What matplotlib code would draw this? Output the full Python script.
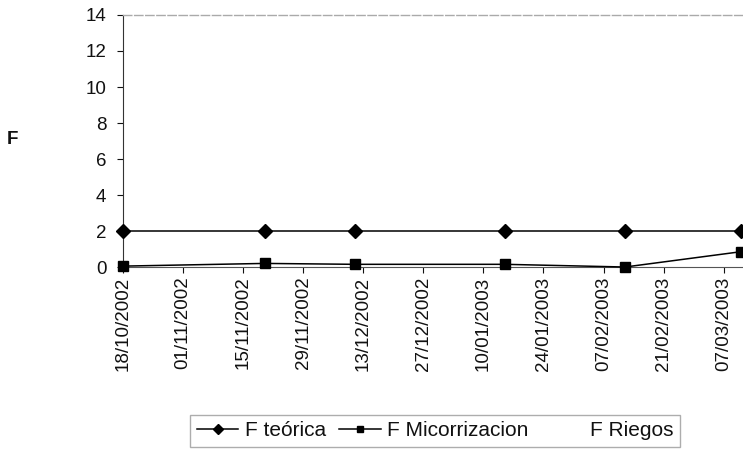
import numpy as np
import matplotlib.pyplot as plt
import matplotlib.dates as mdates
from datetime import date, datetime, timedelta

plt.rcParams['font.family'] = ['Liberation Sans', 'DejaVu Sans']

# sampling dates and F values
fechas = ['2002-10-18', '2002-11-20', '2002-12-11', '2003-01-15', '2003-02-12', '2003-03-11']
f_teorica = [2, 2, 2, 2, 2, 2]
f_micorrizacion = [0.05, 0.2, 0.15, 0.15, 0.0, 0.85]
f_riegos = [0, 0, 0, 0, 0, 0]

x = np.array(fechas, dtype='datetime64[D]')

fig = plt.figure(figsize=(7.43, 4.49), dpi=100)
ax = fig.add_axes([0.1655, 0.4053, 0.8345, 0.5613])

ax.plot(x, f_teorica, color='black', lw=1.1, marker='D', ms=7, label='F teórica', clip_on=False, zorder=4)
ax.plot(x, f_micorrizacion, color='black', lw=1.1, marker='s', ms=7, label='F Micorrizacion', clip_on=False, zorder=4)
ax.plot(x, f_riegos, color='white', lw=0, label='F Riegos', zorder=1)

ax.set_ylim(0, 14)
ax.set_yticks(range(0, 15, 2))
start = date(2002, 10, 18)
ticks = [start + timedelta(days=14 * i) for i in range(11)]
ax.set_xticks(ticks)
ax.set_xlim(datetime(2002, 10, 18), datetime(2003, 3, 11, 12))
ax.xaxis.set_major_formatter(mdates.DateFormatter('%d/%m/%Y'))
plt.setp(ax.get_xticklabels(), rotation=90)

ax.tick_params(axis='both', labelsize=13.5, colors='#111111', length=4, width=0.8, direction='out')
ax.tick_params(axis='x', pad=3)
ax.tick_params(axis='y', pad=8)
ax.spines['right'].set_visible(False)
ax.spines['top'].set_color('#aaaaaa')
ax.spines['top'].set_linewidth(1.0)
ax.spines['top'].set_linestyle((0, (6, 2)))
ax.spines['left'].set_color('#333333')
ax.spines['bottom'].set_color('#555555')

fig.text(12 / 743, 1 - 140 / 449, 'F', fontsize=13.5, fontweight='bold', ha='center', va='center', color='#111111')

leg = fig.legend(loc='center', bbox_to_anchor=(435 / 743, 1 - 431 / 449), ncol=3, fontsize=15,
                 frameon=True, fancybox=False, edgecolor='#999999', handlelength=2.0,
                 handletextpad=0.33, columnspacing=0.6, borderpad=0.3, borderaxespad=0.0)
leg.get_frame().set_linewidth(1.0)
for h in leg.legend_handles:
    h.set_markersize(5)
for t in leg.get_texts():
    t.set_color('#111111')

fig.savefig('out.png', dpi=100)
